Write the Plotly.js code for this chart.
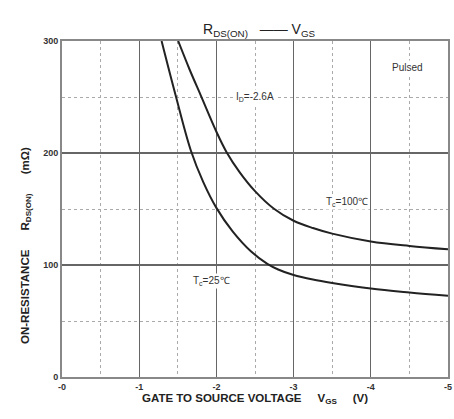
<!DOCTYPE html>
<html>
<head>
<meta charset="utf-8">
<script src="https://cdn.plot.ly/plotly-3.0.1.min.js"></script>
<style>html,body{margin:0;padding:0;background:#fff}#chart{width:454px;height:419px}</style>
</head>
<body>
<div id="chart"></div>
<script>
// Gate-to-source voltage (V) and on-resistance (mOhm)
const gateV25  = [-1.29, -1.47, -1.67, -1.83, -2.0, -2.21, -2.45, -2.66, -2.8, -3.0, -3.25, -3.5, -4.0, -4.5, -5.0];
const rdson25  = [300,   252,   202,   174,   151,  130,   112,   101,   96,   91,   87,    84,   79,   75.5, 72.5];
const gateV100 = [-1.505, -1.65, -1.8, -2.0, -2.13, -2.3, -2.5, -2.75, -3.0, -3.25, -3.5, -4.0, -4.5, -5.0];
const rdson100 = [300,    275,   251,  219,  201,   183,  166,  150,   139.5, 133,  128,  121,  117,  114];
const xTickVals = [0, -1, -2, -3, -4, -5];
const xTickText = ["-0", "-1", "-2", "-3", "-4", "-5"];
const yTickVals = [0, 100, 200, 300];
const yTickText = ["0", "100", "200", "300"];

const font = "Liberation Sans, Arial, sans-serif";
const lineStyle = {color: "#222", width: 2, shape: "spline", smoothing: 1};

const data = [
  {x: gateV25, y: rdson25, mode: "lines", line: lineStyle, hoverinfo: "skip"},
  {x: gateV100, y: rdson100, mode: "lines", line: lineStyle, hoverinfo: "skip"}
];

const labelFont = {family: font, size: 10, color: "#333"};
const layout = {
  width: 454, height: 419,
  margin: {l: 62, r: 6, t: 41, b: 42},
  paper_bgcolor: "#fff", plot_bgcolor: "#fff",
  showlegend: false,
  xaxis: {
    range: [0, -5], tickvals: xTickVals, ticktext: xTickText,
    showgrid: true, gridcolor: "#666", gridwidth: 1.3,
    minor: {dtick: 0.5, tick0: 0, showgrid: true, gridcolor: "#aaa", griddash: "dot", gridwidth: 1},
    showline: true, linecolor: "#888", linewidth: 2, mirror: true,
    zeroline: false, ticks: "", ticklen: 0,
    tickfont: {family: font, size: 9, color: "#333", weight: "bold"}
  },
  yaxis: {
    range: [0, 300], tickvals: yTickVals, ticktext: yTickText,
    showgrid: true, gridcolor: "#666", gridwidth: 1.3,
    minor: {dtick: 50, tick0: 0, showgrid: true, gridcolor: "#aaa", griddash: "dot", gridwidth: 1},
    showline: true, linecolor: "#888", linewidth: 2, mirror: true,
    zeroline: false, ticks: "",
    tickfont: {family: font, size: 9, color: "#333", weight: "bold"}
  },
  annotations: [
    {xref: "paper", yref: "paper", x: 0.51, y: 1.0, yshift: 22, showarrow: false,
     text: "R<sub>DS(ON)</sub>   —— V<sub>GS</sub>", font: {family: font, size: 14, color: "#222"}},
    {xref: "paper", yref: "paper", x: 0.5, y: 0, yshift: -31, showarrow: false,
     text: "GATE TO SOURCE VOLTAGE     V<sub>GS</sub>     (V)", font: {family: font, size: 11.5, color: "#222", weight: "bold"}},
    {xref: "paper", yref: "paper", x: 0, xshift: -45, y: 0.39, showarrow: false, textangle: -90,
     text: "ON-RESISTANCE      R<sub>DS(ON)</sub>      (mΩ)", font: {family: font, size: 11.5, color: "#222", weight: "bold"}},
    {x: -2.5, y: 250, showarrow: false, bgcolor: "#fff", text: "I<sub>D</sub>=-2.6A", font: labelFont},
    {x: -3.69, y: 156, showarrow: false, bgcolor: "#fff", text: "T<sub>c</sub>=100℃", font: labelFont},
    {x: -1.93, y: 86, showarrow: false, bgcolor: "#fff", text: "T<sub>c</sub>=25℃", font: labelFont},
    {x: -4.47, y: 276, showarrow: false, bgcolor: "#fff", text: "Pulsed", font: labelFont}
  ]
};

Plotly.newPlot("chart", data, layout, {displayModeBar: false, staticPlot: true});
</script>
</body>
</html>
